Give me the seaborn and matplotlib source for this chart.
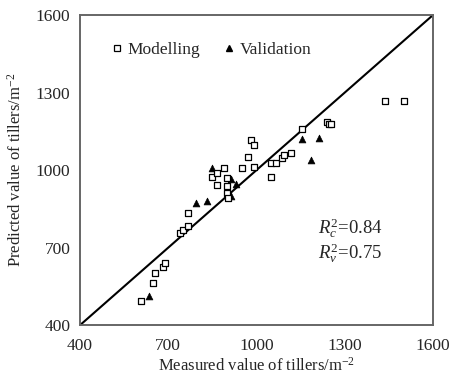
import matplotlib
matplotlib.use("Agg")
import matplotlib.pyplot as plt
import seaborn as sns
import pandas as pd
from matplotlib.lines import Line2D

# Modelling (open squares)
model_measured = [606, 649, 655, 683, 689, 740, 749, 766, 768, 850, 865, 865, 889, 900,
                  901, 901, 902, 950, 972, 980, 991, 991, 1049, 1065, 1051, 1088, 1095,
                  1119, 1156, 1241, 1248, 1253, 1437, 1501]
model_predicted = [493, 561, 600, 626, 639, 755, 770, 783, 835, 974, 987, 942, 1009, 968,
                   938, 910, 893, 1010, 1049, 1116, 1097, 1013, 1028, 1028, 974, 1045, 1057,
                   1065, 1161, 1187, 1177, 1177, 1267, 1267]
# Validation (filled triangles)
valid_measured = [635, 793, 831, 848, 912, 929, 913, 1156, 1212, 1185]
valid_predicted = [512, 874, 880, 1009, 967, 946, 900, 1119, 1125, 1041]

ticks = [400, 700, 1000, 1300, 1600]
line_1to1 = [400, 1600]

sns.set_style("white")
plt.rcParams["font.family"] = ["Liberation Serif", "DejaVu Serif"]
plt.rcParams["mathtext.fontset"] = "custom"
plt.rcParams["mathtext.rm"] = "Liberation Serif"
plt.rcParams["mathtext.it"] = "Liberation Serif:italic"

fig = plt.figure(figsize=(4.5, 3.78), dpi=100)
ax = fig.add_axes([0.178, 0.140, 0.784, 0.820])

sns.lineplot(x=line_1to1, y=line_1to1, ax=ax, color="black", lw=1.5, zorder=1)
sns.scatterplot(x=valid_measured, y=valid_predicted, ax=ax, marker="^", s=24,
                color="black", edgecolor="black", linewidth=0.5, zorder=3)
sns.scatterplot(x=model_measured, y=model_predicted, ax=ax, marker="s", s=22,
                facecolor="white", edgecolor="black", linewidth=0.9, zorder=3)

ax.set_xlim(400, 1600)
ax.set_ylim(400, 1600)
ax.set_xticks(ticks)
ax.set_yticks(ticks)
ax.set_xticklabels([str(t) for t in ticks])
ax.set_yticklabels([str(t) for t in ticks])
ax.tick_params(direction="in", length=4, width=1, color="#777777", labelsize=12.5)
ax.tick_params(axis="x", pad=9)
ax.tick_params(axis="y", pad=7)
for sp in ax.spines.values():
    sp.set_color("#666666")
    sp.set_linewidth(1.4)

ax.set_xlabel("Measured value of tillers/m$^{-2}$", fontsize=12, labelpad=2)
ax.set_ylabel("Predicted value of tillers/m$^{-2}$", fontsize=12, labelpad=8)

handles = [Line2D([], [], marker="s", ls="", mfc="white", mec="black", ms=4.5, mew=0.9),
           Line2D([], [], marker="^", ls="", mfc="black", mec="black", ms=5)]
ax.legend(handles, ["Modelling", "Validation"], loc="upper left", ncol=2, frameon=False,
          prop={"family": "Liberation Serif", "size": 12.5},
          handletextpad=0.1, columnspacing=1.2, handlelength=1.0,
          bbox_to_anchor=(0.035, 0.965))

ax.text(0.675, 0.295, "$R_c^2$=0.84", transform=ax.transAxes, fontsize=13.5)
ax.text(0.675, 0.215, "$R_v^2$=0.75", transform=ax.transAxes, fontsize=13.5)

fig.savefig("out.png", dpi=100)
